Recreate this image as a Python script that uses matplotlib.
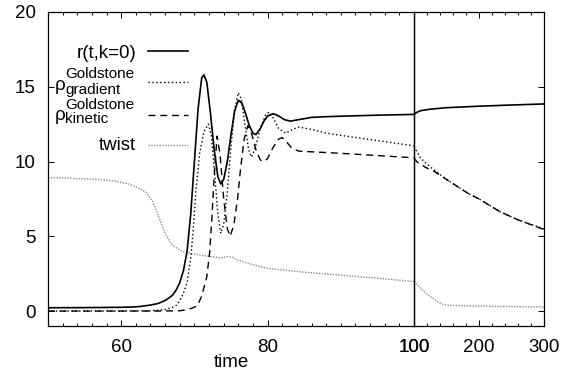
import matplotlib
matplotlib.use("Agg")
import matplotlib.pyplot as plt
from matplotlib.ticker import MultipleLocator, FixedLocator
from matplotlib.lines import Line2D

plt.rcParams['font.family'] = ['Liberation Sans', 'DejaVu Sans']

# ---------------- data ----------------
# r(t,k=0)
r_t_left = [50, 55, 60, 62, 63, 64, 65, 66, 67, 67.5, 68, 68.5, 69, 69.5, 70, 70.5, 71, 71.3,
            71.7, 72.2, 72.7, 73.2, 73.6, 74, 74.5, 75, 75.5, 76, 76.5, 77, 77.5, 78, 78.4,
            79, 79.5, 80, 80.8, 81.5, 82.3, 83.1, 84, 86, 88, 90, 95, 100]
r_v_left = [0.22, 0.23, 0.25, 0.28, 0.33, 0.40, 0.50, 0.70, 1.05, 1.4, 1.9, 2.7, 4.0, 6.5, 10.0, 13.5, 15.6, 15.8,
            15.3, 13.2, 10.8, 9.0, 8.5, 8.8, 10.0, 11.8, 13.4, 14.1, 13.9, 13.2, 12.4, 11.9, 11.8,
            12.2, 12.7, 13.05, 13.2, 13.05, 12.8, 12.7, 12.78, 12.95, 13.0, 13.03, 13.1, 13.15]
r_t_right = [100, 105, 110, 125, 150, 175, 200, 250, 300]
r_v_right = [13.15, 13.3, 13.4, 13.5, 13.6, 13.65, 13.7, 13.78, 13.85]

# rho Goldstone gradient
g_t_left = [50, 60, 64, 66, 67, 67.6, 68, 68.5, 69, 69.5, 69.8, 70.2, 70.7, 71.3, 71.9, 72.3, 72.8,
            73.2, 73.6, 74, 74.5, 75, 75.5, 76, 76.4, 76.9, 77.4, 77.8, 78.3, 79, 79.7, 80.2,
            80.8, 81.5, 82.5, 83.4, 84.3, 86, 88, 90, 95, 100]
g_v_left = [0.0, 0.0, 0.02, 0.1, 0.25, 0.4, 0.7, 1.2, 1.9, 3.5, 5.2, 8.0, 10.5, 12.0, 12.5, 11.8, 9.0,
            6.5, 5.2, 5.8, 8.0, 11.0, 13.5, 14.6, 14.2, 12.5, 10.8, 10.3, 10.9, 12.2, 13.1, 13.3,
            12.9, 12.2, 11.9, 12.15, 12.3, 12.15, 11.9, 11.75, 11.4, 11.05]
g_t_right = [100, 104, 109, 118, 129, 150, 182, 200, 232, 260, 300]
g_v_right = [11.0, 10.7, 10.3, 9.9, 9.5, 8.8, 7.9, 7.5, 6.65, 6.1, 5.5]

# rho Goldstone kinetic
k_t_left = [50, 65, 68, 69, 69.7, 70.4, 71, 71.7, 72.1, 72.4, 72.7, 73.1, 73.5, 74, 74.5, 74.9,
            75.4, 75.9, 76.3, 76.8, 77.3, 77.8, 78.4, 79, 79.5, 80, 80.7, 81.5, 82, 82.6, 83.3,
            84.2, 86, 90, 95, 100]
k_v_left = [0.0, 0.0, 0.02, 0.1, 0.2, 0.35, 1.0, 2.3, 4.0, 6.3, 9.0, 11.7, 10.5, 7.5, 5.5, 5.0,
            5.8, 7.5, 9.5, 11.5, 12.4, 11.9, 10.8, 10.1, 10.0, 10.2, 10.9, 11.5, 11.6, 11.3, 10.9,
            10.7, 10.65, 10.55, 10.4, 10.25]
k_t_right = [100, 104, 109, 118, 129, 150, 182, 200, 232, 260, 300]
k_v_right = [10.25, 10.0, 9.85, 9.6, 9.4, 8.8, 7.9, 7.5, 6.65, 6.1, 5.45]

# twist
w_t_left = [50, 53, 57, 59, 61, 62.5, 63.5, 64.3, 64.9, 65.6, 66.2, 67, 68.4, 70.3, 72, 73.8,
            74.5, 75.2, 76, 78, 80, 85, 90, 95, 100]
w_v_left = [8.93, 8.88, 8.8, 8.7, 8.5, 8.2, 7.9, 7.3, 6.6, 5.7, 5.0, 4.4, 3.97, 3.78, 3.65, 3.55,
            3.65, 3.6, 3.4, 3.1, 2.85, 2.6, 2.4, 2.2, 1.97]
w_t_right = [100, 109, 118, 129, 137, 145, 155, 200, 300]
w_v_right = [1.97, 1.57, 1.2, 0.85, 0.6, 0.43, 0.38, 0.33, 0.27]

labels = ['r(t,k=0)', 'Goldstone', 'gradient', 'kinetic', 'twist']
left_xticks = [60, 80, 100]
right_xticks = [100, 200, 300]
yticks = [0, 5, 10, 15, 20]

# ---------------- figure ----------------
W, H = 576, 382
fig = plt.figure(figsize=(W / 100, H / 100), dpi=100)
x0, x1, x2 = 48, 414, 544
ytop, ybot = 12, 326
ax1 = fig.add_axes([x0 / W, 1 - ybot / H, (x1 - x0) / W, (ybot - ytop) / H])
ax2 = fig.add_axes([x1 / W, 1 - ybot / H, (x2 - x1) / W, (ybot - ytop) / H])
ax2.patch.set_visible(False)

solid = dict(color='black', lw=1.2, ls='-')
dotted = dict(color='black', lw=1.0, ls=(0, (1, 1.8)))
dashed = dict(color='black', lw=1.0, ls=(0, (5, 3.5)))
twist = dict(color='#8a8a8a', lw=1.0, ls=(0, (1, 1)))

for ax, (rt, rv, gt, gv, kt, kv, wt, wv) in [
        (ax1, (r_t_left, r_v_left, g_t_left, g_v_left, k_t_left, k_v_left, w_t_left, w_v_left)),
        (ax2, (r_t_right, r_v_right, g_t_right, g_v_right, k_t_right, k_v_right, w_t_right, w_v_right))]:
    ax.plot(wt, wv, **twist)
    ax.plot(kt, kv, **dashed)
    ax.plot(gt, gv, **dotted)
    ax.plot(rt, rv, **solid)
    ax.set_ylim(-1, 20)
    for s in ax.spines.values():
        s.set_linewidth(0.9)
        s.set_color('black')
    ax.tick_params(which='both', direction='in', top=True, width=0.7,
                   labelsize=13.5, pad=9)
    ax.tick_params(which='major', length=4)
    ax.tick_params(which='minor', length=2.5)

ax1.set_xlim(50, 100)
ax1.xaxis.set_major_locator(FixedLocator(left_xticks))
ax1.xaxis.set_minor_locator(MultipleLocator(2))
ax1.yaxis.set_major_locator(FixedLocator(yticks))
ax1.tick_params(axis='y', right=False, left=True)
ax1.set_xlabel('time', fontsize=13.5, labelpad=-1)
ax1.spines['right'].set_zorder(5)

ax2.set_xlim(100, 300)
ax2.xaxis.set_major_locator(FixedLocator(right_xticks))
ax2.xaxis.set_minor_locator(MultipleLocator(20))
ax2.yaxis.set_major_locator(FixedLocator(yticks))
ax2.tick_params(axis='y', left=False, right=True, labelleft=False, labelright=False)

# ---------------- legend (gnuplot style) ----------------
def fy(py):
    return 1 - py / H

def fx(px):
    return px / W

lx_right = 136
sample = (148, 188)
main_fs = 13.5
sub_fs = 11

def sample_line(py, style):
    fig.add_artist(Line2D([fx(sample[0]), fx(sample[1])], [fy(py), fy(py)],
                          transform=fig.transFigure, **style))

fig.text(fx(lx_right), fy(53), labels[0], ha='right', va='center', fontsize=main_fs)
sample_line(51, solid)

for (rho_y, sup_y, sub_y, line_y, sub, style) in [
        (86, 74, 90, 82, labels[2], dotted),
        (116, 105, 119, 115, labels[3], dashed)]:
    fig.text(fx(65), fy(rho_y), 'ρ', ha='right', va='center', fontsize=main_fs)
    fig.text(fx(65.5), fy(sup_y), labels[1], ha='left', va='center', fontsize=sub_fs)
    fig.text(fx(65.5), fy(sub_y), sub, ha='left', va='center', fontsize=sub_fs)
    sample_line(line_y, style)

fig.text(fx(lx_right), fy(145), labels[4], ha='right', va='center', fontsize=main_fs)
sample_line(145, twist)

fig.savefig('out.png', dpi=100)
